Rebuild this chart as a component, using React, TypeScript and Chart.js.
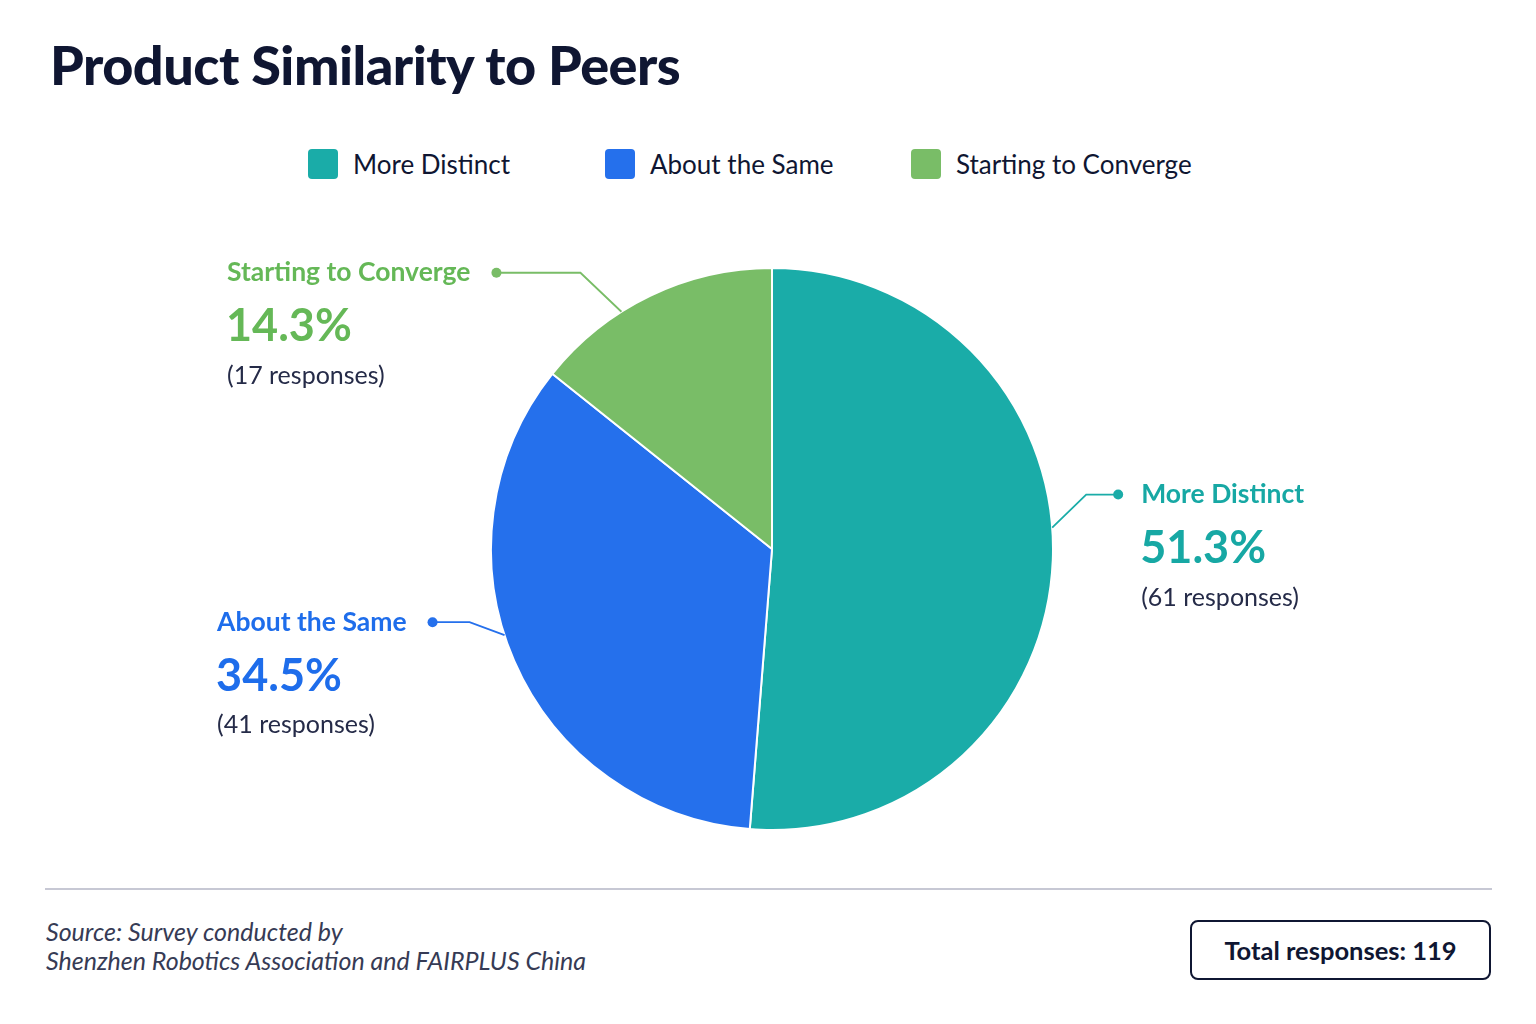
import React, { useEffect, useRef } from 'react';
import { Chart, registerables } from 'chart.js';

Chart.register(...registerables);

const CATEGORIES = ['More Distinct', 'About the Same', 'Starting to Converge'];
const RESPONSES = [61, 41, 17];
const PERCENT_LABELS = ['51.3%', '34.5%', '14.3%'];
const TOTAL_RESPONSES = 119;

const COLORS = ['#1AACA8', '#2570EC', '#79BD67'];
const TEXT_COLORS = ['#17A8A4', '#1E6DEB', '#65B857'];
const INK = '#0F1632';
const FONT = 'Lato, "Noto Sans", sans-serif';

// where each callout leaves its slice, and how the leader bends
const CALLOUTS = [
  { frac: 0.464, elbow: [34, -33], run: 32, side: 'right' },
  { frac: 0.545, elbow: [-35, -13], run: -37, side: 'left' },
  { frac: 0.37, elbow: [-41, -39], run: -84, side: 'left' },
];

const calloutPlugin = {
  id: 'callouts',
  afterDatasetsDraw(chart: Chart) {
    const ctx = chart.ctx;
    const meta = chart.getDatasetMeta(0);
    meta.data.forEach((arc: any, i: number) => {
      const c = CALLOUTS[i];
      const { x, y, startAngle, endAngle, outerRadius } = arc.getProps(['x', 'y', 'startAngle', 'endAngle', 'outerRadius'], true);
      const a = startAngle + (endAngle - startAngle) * c.frac;
      const ex = x + Math.cos(a) * outerRadius;
      const ey = y + Math.sin(a) * outerRadius;
      const bx = ex + c.elbow[0];
      const by = ey + c.elbow[1];
      const dx = bx + c.run;

      ctx.save();
      ctx.strokeStyle = COLORS[i];
      ctx.lineWidth = 1.8;
      ctx.beginPath();
      ctx.moveTo(ex, ey);
      ctx.lineTo(bx, by);
      ctx.lineTo(dx, by);
      ctx.stroke();
      ctx.fillStyle = COLORS[i];
      ctx.beginPath();
      ctx.arc(dx, by, 5, 0, Math.PI * 2);
      ctx.fill();

      ctx.textBaseline = 'middle';
      ctx.textAlign = 'left';
      ctx.font = `700 26.5px ${FONT}`;
      const w = ctx.measureText(CATEGORIES[i]).width;
      const left = c.side === 'right' ? dx + 23 : dx - 26 - w;

      ctx.fillStyle = TEXT_COLORS[i];
      ctx.fillText(CATEGORIES[i], left, by);
      ctx.font = `700 45px ${FONT}`;
      ctx.fillText(PERCENT_LABELS[i], left - 1, by + 54);
      ctx.fillStyle = '#252B48';
      ctx.font = `400 25px ${FONT}`;
      ctx.fillText(`(${RESPONSES[i]} responses)`, left, by + 103);
      ctx.restore();
    });
  },
};

function PieChart() {
  const ref = useRef<HTMLCanvasElement>(null);

  useEffect(() => {
    if (!ref.current) return;
    const chart = new Chart(ref.current, {
      type: 'pie',
      data: {
        labels: CATEGORIES,
        datasets: [{
          data: RESPONSES,
          backgroundColor: COLORS,
          borderColor: '#ffffff',
          borderWidth: 2,
        }],
      },
      options: {
        responsive: true,
        maintainAspectRatio: false,
        animation: false,
        layout: { padding: { top: 67, bottom: 49, left: 8, right: 0 } },
        plugins: {
          legend: { display: false },
          tooltip: { enabled: false },
        },
      },
      plugins: [calloutPlugin],
    });
    return () => chart.destroy();
  }, []);

  return <canvas ref={ref} />;
}

export default function App() {
  return (
    <div style={{ position: 'relative', width: 1536, height: 1024, background: '#fff', fontFamily: FONT, color: INK, overflow: 'hidden' }}>
      <style>{'body{margin:0}'}</style>

      <div style={{ position: 'absolute', left: 50, top: 38, fontSize: 54, fontWeight: 900, lineHeight: 1, letterSpacing: -0.5 }}>
        Product Similarity to Peers
      </div>

      {/* Legend */}
      {CATEGORIES.map((name, i) => (
        <div key={name} style={{ position: 'absolute', left: [308, 605, 911][i], top: 149, display: 'flex', alignItems: 'center', height: 30 }}>
          <span style={{ width: 30, height: 30, borderRadius: 4, background: COLORS[i], marginRight: 15 }} />
          <span style={{ fontSize: 26, fontWeight: 400, color: INK }}>{name}</span>
        </div>
      ))}

      <div style={{ position: 'absolute', left: 0, top: 200, width: 1536, height: 680 }}>
        <PieChart />
      </div>

      {/* Footer */}
      <div style={{ position: 'absolute', left: 45, top: 888, width: 1447, height: 2, background: '#C7C8D4' }} />
      <div style={{ position: 'absolute', left: 46, top: 917, fontSize: 25, fontStyle: 'italic', lineHeight: '29px', color: '#363B55' }}>
        Source: Survey conducted by<br />Shenzhen Robotics Association and FAIRPLUS China
      </div>
      <div style={{
        position: 'absolute', left: 1190, top: 920, width: 301, height: 60, boxSizing: 'border-box',
        border: `2px solid ${INK}`, borderRadius: 8, display: 'flex', alignItems: 'center', justifyContent: 'center',
        fontSize: 25.5, fontWeight: 700, color: INK,
      }}>
        Total responses: {TOTAL_RESPONSES}
      </div>
    </div>
  );
}
